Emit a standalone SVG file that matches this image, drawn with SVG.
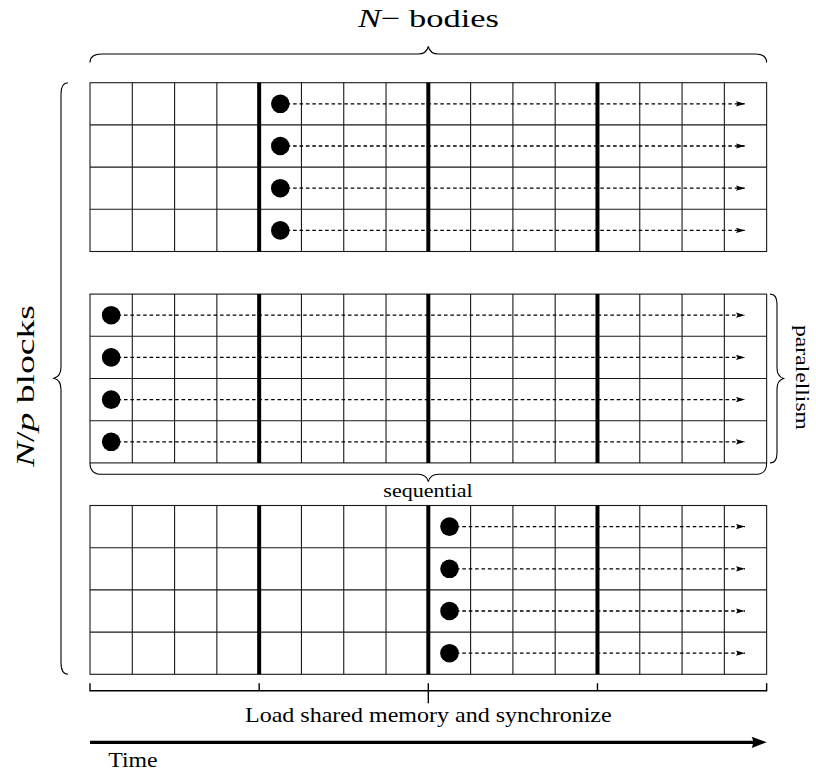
<svg xmlns="http://www.w3.org/2000/svg" xmlns:xlink="http://www.w3.org/1999/xlink" width="816" height="772" viewBox="0 0 816 772">
<style>
.thin{fill:none;stroke:#1a1a1a;stroke-width:1.1}
.thick{fill:none;stroke:#000;stroke-width:4}
.brace{fill:none;stroke:#000;stroke-width:1.1}
.dot{fill:#000}
.flow{fill:none;stroke:#000;stroke-width:1.3;stroke-dasharray:3.6 2.8;marker-end:url(#ah)}
text{fill:#000}
</style>
<defs>
<marker id="ah" markerUnits="userSpaceOnUse" markerWidth="10" markerHeight="6" refX="9" refY="3" orient="auto">
<path d="M0,0.4 L9,3 L0,5.6 L1.5,3 Z" fill="#000"/>
</marker>
<g id="grid">
<rect x="90" y="0" width="676.64" height="168.8" fill="#fff" class="thin"/>
<path class="thin" d="M132.29,0v168.8M174.58,0v168.8M216.87,0v168.8M301.45,0v168.8M343.74,0v168.8M386.03,0v168.8M470.61,0v168.8M512.9,0v168.8M555.19,0v168.8M639.77,0v168.8M682.06,0v168.8M724.35,0v168.8M90,42.2H766.64M90,84.4H766.64M90,126.6H766.64"/>
<path class="thick" d="M259.16,0v168.8M428.32,0v168.8M597.48,0v168.8"/>
</g>
</defs>
<rect width="816" height="772" fill="#fff"/>

<g id="block1">
<use xlink:href="#grid" href="#grid" y="82.7"/>
</g>
<g id="block2">
<use xlink:href="#grid" href="#grid" y="294.1"/>
</g>
<g id="block3">
<use xlink:href="#grid" href="#grid" y="505.5"/>
</g>

<g id="connectors">
<path class="flow" d="M280.3,103.8H745"/>
<path class="flow" d="M280.3,146H745"/>
<path class="flow" d="M280.3,188.2H745"/>
<path class="flow" d="M280.3,230.4H745"/>
<path class="flow" d="M111.15,315.2H745"/>
<path class="flow" d="M111.15,357.4H745"/>
<path class="flow" d="M111.15,399.6H745"/>
<path class="flow" d="M111.15,441.8H745"/>
<path class="flow" d="M449.5,526.6H745"/>
<path class="flow" d="M449.5,568.8H745"/>
<path class="flow" d="M449.5,611H745"/>
<path class="flow" d="M449.5,653.2H745"/>
</g>

<g id="dots">
<circle class="dot" cx="280.3" cy="103.8" r="9.3"/>
<circle class="dot" cx="280.3" cy="146" r="9.3"/>
<circle class="dot" cx="280.3" cy="188.2" r="9.3"/>
<circle class="dot" cx="280.3" cy="230.4" r="9.3"/>
<circle class="dot" cx="111.15" cy="315.2" r="9.3"/>
<circle class="dot" cx="111.15" cy="357.4" r="9.3"/>
<circle class="dot" cx="111.15" cy="399.6" r="9.3"/>
<circle class="dot" cx="111.15" cy="441.8" r="9.3"/>
<circle class="dot" cx="449.5" cy="526.6" r="9.3"/>
<circle class="dot" cx="449.5" cy="568.8" r="9.3"/>
<circle class="dot" cx="449.5" cy="611" r="9.3"/>
<circle class="dot" cx="449.5" cy="653.2" r="9.3"/>
</g>

<g id="brace-top">
<path class="brace" d="M90,62.5C90,56.5 94,54 102,54L418,54C424,54 427,52 428.3,46.5C429.6,52 432.6,54 438.6,54L755,54C763,54 766.6,56.5 766.6,62.5"/>
<text font-family="'Liberation Serif', 'Times New Roman', serif" x="358" y="26.7" font-size="26" textLength="141" lengthAdjust="spacingAndGlyphs"><tspan font-style="italic">N</tspan>− bodies</text>
</g>

<g id="brace-left">
<path class="brace" d="M68,82.7C63.5,82.7 61,86 61,94L61,367C61,373 59,377 54,378.3C59,379.6 61,383.6 61,389.6L61,662.6C61,670.6 63.5,674.3 68,674.3"/>
<text font-family="'Liberation Serif', 'Times New Roman', serif" transform="translate(33.5,467) rotate(-90)" font-size="26" textLength="162" lengthAdjust="spacingAndGlyphs"><tspan font-style="italic">N</tspan>/<tspan font-style="italic">p</tspan> blocks</text>
</g>

<g id="brace-right">
<path class="brace" d="M770,294.1C774.5,294.1 777,297 777,304L777,368C777,374 779,377 783.5,378.5C779,380 777,383 777,389L777,452.9C777,459.9 774.5,462.9 770,462.9"/>
<text font-family="'Liberation Serif', 'Times New Roman', serif" transform="translate(795.5,325) rotate(90)" font-size="19" textLength="105" lengthAdjust="spacingAndGlyphs">paralellism</text>
</g>

<g id="brace-bottom">
<path class="brace" d="M90,462.9C90,470 93,474.3 102,474.3L418,474.3C424,474.3 427,476.5 428.3,481.7C429.6,476.5 432.6,474.3 438.6,474.3L755,474.3C764,474.3 766.6,470 766.6,462.9"/>
<text font-family="'Liberation Serif', 'Times New Roman', serif" x="383.3" y="497" font-size="19" textLength="89.4" lengthAdjust="spacingAndGlyphs">sequential</text>
</g>

<g id="timeline">
<path fill="none" stroke="#000" stroke-width="1.4" d="M90,683.3V690.7H766.64V683.3M259.16,683.3V690.7M428.32,683.3V703.3M597.48,683.3V690.7"/>
<text font-family="'Liberation Serif', 'Times New Roman', serif" x="245" y="721.7" font-size="21" textLength="366.7" lengthAdjust="spacingAndGlyphs">Load shared memory and synchronize</text>
</g>

<g id="time-arrow">
<path fill="none" stroke="#000" stroke-width="3.3" d="M90,742.3H756"/>
<path fill="#000" d="M766.7,742.3L751.7,736.7Q754.5,742.3 751.7,747.9Z"/>
<text font-family="'Liberation Serif', 'Times New Roman', serif" x="108.3" y="766.7" font-size="21" textLength="49.4" lengthAdjust="spacingAndGlyphs">Time</text>
</g>
</svg>
